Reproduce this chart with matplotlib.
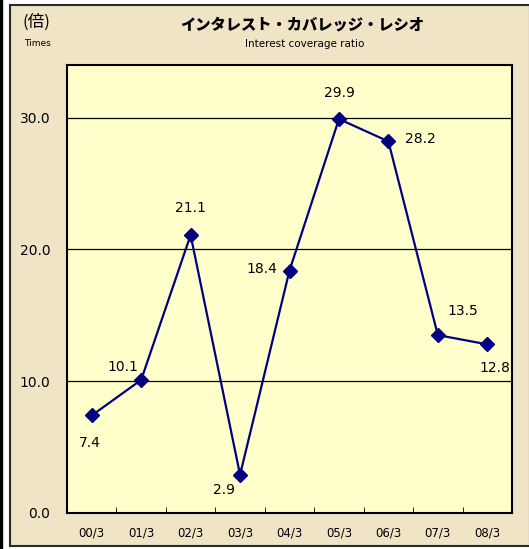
import matplotlib
matplotlib.use("Agg")
import matplotlib.pyplot as plt
from matplotlib.patches import Rectangle

categories = ["00/3", "01/3", "02/3", "03/3", "04/3", "05/3", "06/3", "07/3", "08/3"]
values = [7.4, 10.1, 21.1, 2.9, 18.4, 29.9, 28.2, 13.5, 12.8]
yticks = [0.0, 10.0, 20.0, 30.0]
# label offsets in pixels (dx, dy)
offsets = [(-2, -28), (-18, 13), (0, 27), (-16, -15), (-28, 2), (0, 26), (32, 2), (25, 24), (8, -24)]

W, H = 529, 549
fig = plt.figure(figsize=(W/100, H/100), dpi=100)
fig.patch.set_facecolor("white")
# left black line
fig.add_artist(Rectangle((0, 0), 2/W, 1, transform=fig.transFigure, color="black", zorder=0))
# beige panel
fig.add_artist(Rectangle((10/W, 3/H), (W-9)/W, (H-8)/H, transform=fig.transFigure,
                         facecolor="#F0E4C6", edgecolor="#2a2a2a", lw=1.5, zorder=0))

ax = fig.add_axes([67/W, (H-513)/H, (512-67)/W, (513-65)/H])
ax.set_facecolor("#FFFFCC")
x = list(range(len(categories)))
ax.plot(x, values, color="#000080", lw=1.6, marker="D", markersize=7, zorder=3)
for xi, v, (dx, dy) in zip(x, values, offsets):
    ax.annotate(f"{v:.1f}", (xi, v), xytext=(dx, dy), textcoords="offset pixels",
                ha="center", va="center", fontsize=10, family="DejaVu Sans")

ax.set_xlim(-0.5, len(categories) - 0.5)
ax.set_ylim(0, 34)
ax.set_yticks(yticks)
ax.set_yticklabels([f"{t:.1f}" for t in yticks], fontsize=10)
for t in yticks[1:]:
    ax.axhline(t, color="black", lw=0.9, zorder=1)
ax.tick_params(axis="y", length=0, pad=12)
ax.set_xticks(x)
ax.set_xticklabels(categories, fontsize=8.5)
ax.tick_params(axis="x", length=0, pad=10)
ax.set_xticks([i + 0.5 for i in x[:-1]], minor=True)
ax.tick_params(axis="x", which="minor", direction="in", length=4, color="black")
for s in ax.spines.values():
    s.set_linewidth(1.5)
    s.set_color("black")

fig.text(22/W, 1 - 22/H, "(倍)", fontsize=12, family=["Noto Sans CJK JP", "DejaVu Sans"], ha="left", va="center")
fig.text(24/W, 1 - 43/H, "Times", fontsize=6.5, ha="left", va="center")
fig.text(302/W, 1 - 25/H, "インタレスト・カバレッジ・レシオ", fontsize=11, fontweight="heavy",
         family=["Noto Sans CJK JP", "DejaVu Sans"], ha="center", va="center")
fig.text(305/W, 1 - 44/H, "Interest coverage ratio", fontsize=7.5, ha="center", va="center")

fig.savefig("out.png", dpi=100, facecolor=fig.get_facecolor())
